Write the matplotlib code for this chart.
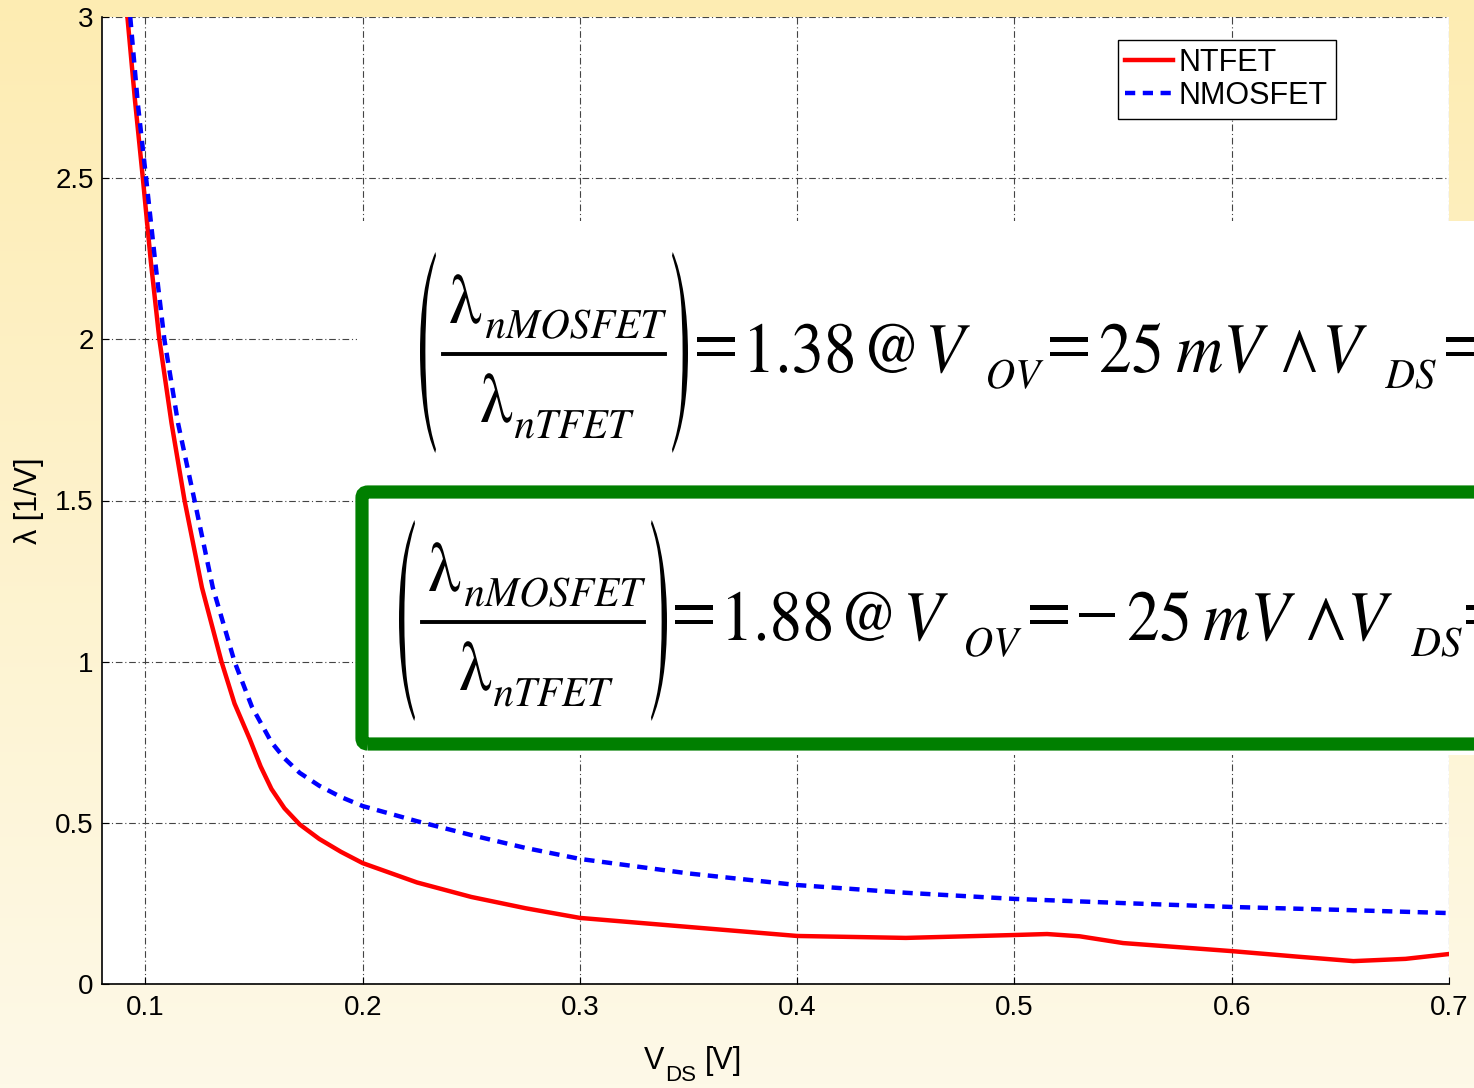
import numpy as np
import matplotlib
matplotlib.use("Agg")
import matplotlib.pyplot as plt
from matplotlib.textpath import TextPath
from matplotlib.patches import PathPatch, Rectangle, FancyBboxPatch
from matplotlib.font_manager import FontProperties
from matplotlib.transforms import Affine2D, IdentityTransform
from matplotlib.lines import Line2D

plt.rcParams['font.family'] = ['Liberation Sans', 'DejaVu Sans']

# ---- data ----
vds_ntfet = [0.0917, 0.0952, 0.0988, 0.1025, 0.1064, 0.112, 0.118, 0.126, 0.135,
             0.141, 0.148, 0.153, 0.158, 0.164, 0.171, 0.18, 0.19, 0.2, 0.225,
             0.25, 0.275, 0.3, 0.35, 0.4, 0.45, 0.5, 0.515, 0.53, 0.55, 0.6,
             0.63, 0.656, 0.68, 0.7]
lam_ntfet = [3.0, 2.74, 2.5, 2.24, 2.0, 1.74, 1.5, 1.23, 1.0,
             0.87, 0.76, 0.675, 0.605, 0.545, 0.495, 0.45, 0.41, 0.375, 0.315,
             0.27, 0.235, 0.205, 0.177, 0.149, 0.143, 0.152, 0.155, 0.148, 0.127, 0.102,
             0.085, 0.071, 0.078, 0.093]

vds_nmos = [0.093, 0.0965, 0.1003, 0.1045, 0.1087, 0.115, 0.1226, 0.131, 0.141,
            0.149, 0.158, 0.164, 0.171, 0.18, 0.19, 0.2, 0.225, 0.25, 0.275,
            0.3, 0.35, 0.4, 0.45, 0.5, 0.55, 0.6, 0.65, 0.7]
lam_nmos = [3.0, 2.73, 2.5, 2.24, 2.0, 1.74, 1.5, 1.23, 1.0,
            0.86, 0.75, 0.70, 0.655, 0.615, 0.58, 0.552, 0.505, 0.462, 0.422,
            0.388, 0.343, 0.307, 0.283, 0.264, 0.251, 0.239, 0.23, 0.22]

xticks = [0.1, 0.2, 0.3, 0.4, 0.5, 0.6, 0.7]
xticklabels = ['0.1', '0.2', '0.3', '0.4', '0.5', '0.6', '0.7']
yticks = [0, 0.5, 1, 1.5, 2, 2.5, 3]
yticklabels = ['0', '0.5', '1', '1.5', '2', '2.5', '3']

ratio_labels = ['1.38', '1.88']
vov_labels = ['25', '\u221225']

W, H = 1474, 1088
fig = plt.figure(figsize=(W / 100, H / 100), dpi=100)

# slide-style background gradient
bg = fig.add_axes([0, 0, 1, 1], zorder=-10)
top_c = np.array([253, 236, 178]) / 255
bot_c = np.array([254, 249, 232]) / 255
t = np.linspace(0, 1, 256)[:, None, None]
grad = top_c * (1 - t) + bot_c * t
bg.imshow(np.repeat(grad, 2, axis=1), aspect='auto', extent=[0, 1, 0, 1])
bg.set_axis_off()

ax = fig.add_axes([102 / W, (H - 984) / H, (1449 - 102) / W, (984 - 17) / H], zorder=1)
ax.set_facecolor('white')
ax.plot(vds_ntfet, lam_ntfet, color='red', lw=3.2, label='NTFET', zorder=3)
ax.plot(vds_nmos, lam_nmos, color='blue', lw=3.2, dashes=(2.3, 1.7), label='NMOSFET',
        zorder=3, dash_capstyle='butt')

ax.set_xlim(0.08, 0.7)
ax.set_ylim(0, 3)
ax.set_xticks(xticks)
ax.set_xticklabels(xticklabels)
ax.set_yticks(yticks)
ax.set_yticklabels(yticklabels)
ax.tick_params(direction='in', length=5, width=0.8, labelsize=20, pad=8)
ax.tick_params(axis='y', pad=6)
ax.grid(True, color='#444444', lw=0.8, linestyle=(0, (6, 2.5, 1, 2.5)))
ax.spines['top'].set_visible(False)
ax.spines['right'].set_visible(False)
for s in ('left', 'bottom'):
    ax.spines[s].set_linewidth(1.2)

ax.set_ylabel('λ [1/V]', fontsize=22)
ax.yaxis.set_label_coords(-0.043, 0.5)


# x-axis label with a lowered subscript
def fig_text(x, baseline, s, size):
    fig.text(x / W, (H - baseline) / H, s, fontsize=size, ha='left', va='baseline')


fig_text(644, 1069, 'V', 22)
fig_text(665, 1081, 'DS', 16)
fig_text(705, 1069, '[V]', 22)

leg = ax.legend(loc='upper left', bbox_to_anchor=(0.754, 0.976), borderaxespad=0,
                fontsize=22, handlelength=1.55, handletextpad=0.2, borderpad=0.25,
                labelspacing=0.1, fancybox=False, framealpha=1, edgecolor='black')
leg.get_frame().set_linewidth(1.0)

# white panel behind the equations
fig.add_artist(Rectangle((357, H - 755), 1300, 755 - 221, facecolor='white',
                         edgecolor='none', transform=IdentityTransform(), zorder=5))

# green frame around the second equation
fig.add_artist(FancyBboxPatch((362, H - 744), 1300, 744 - 492,
                              boxstyle='round,pad=0,rounding_size=6',
                              facecolor='none', edgecolor='#007F00', lw=9.5,
                              transform=IdentityTransform(), zorder=6))

SERIF = FontProperties(family='STIXGeneral')
SERIF_IT = FontProperties(family='STIXGeneral', style='italic')
BIG, SMALL = 65, 41


def glyphs(s, x, baseline, size=BIG, italic=False, stretch=None):
    """Draw string s in pixel space with its ink starting at x, sitting on baseline."""
    if stretch is None:
        stretch = 1.1 if size == BIG else 1.04
    tp = TextPath((0, 0), s, size=size, prop=SERIF_IT if italic else SERIF)
    ext = tp.get_extents()
    tr = Affine2D().translate(-ext.x0, 0).scale(1, stretch).translate(x, H - baseline)
    fig.add_artist(PathPatch(tp, facecolor='black', edgecolor='none', transform=tr, zorder=7))


def boxed(s, left, right, top, bottom):
    """Glyph stretched to fill the given pixel box."""
    tp = TextPath((0, 0), s, size=BIG, prop=SERIF)
    ext = tp.get_extents()
    tr = (Affine2D().translate(-ext.x0, -ext.y0)
          .scale((right - left) / ext.width, (bottom - top) / ext.height)
          .translate(left, H - bottom))
    fig.add_artist(PathPatch(tp, facecolor='black', edgecolor='none', transform=tr, zorder=7))


def ratio_block(dx, dy):
    boxed('(', 420 + dx, 436 + dx, 252 + dy, 453 + dy)
    glyphs('λ', 450 + dx, 323 + dy)
    glyphs('nMOSFET', 486 + dx, 338 + dy, SMALL, True)
    fig.add_artist(Line2D([443 + dx, 665 + dx], [H - 353.5 - dy] * 2, color='black',
                          lw=2.8, transform=IdentityTransform(), zorder=7))
    glyphs('λ', 481 + dx, 422 + dy)
    glyphs('nTFET', 515 + dx, 438 + dy, SMALL, True)
    boxed(')', 672 + dx, 688 + dx, 252 + dy, 453 + dy)


# first relation
ratio_block(0, 0)
glyphs('=', 697, 365)
glyphs(ratio_labels[0], 750, 372)
glyphs('@', 869, 372)
glyphs('V', 930, 372, italic=True)
glyphs('OV', 988, 388, SMALL, True)
glyphs('=', 1050, 365)
glyphs(vov_labels[0], 1101, 372)
glyphs('mV', 1177, 372, italic=True)
boxed('\u2227', 1283, 1316, 330, 372)
glyphs('V', 1327, 372, italic=True)
glyphs('DS', 1385, 388, SMALL, True)
glyphs('=', 1446, 365)

# second relation (framed)
ratio_block(-21, 268)
glyphs('=', 675, 633)
glyphs(ratio_labels[1], 728, 640)
glyphs('@', 846, 640)
glyphs('V', 908, 640, italic=True)
glyphs('OV', 966, 656, SMALL, True)
glyphs('=', 1030, 633)
glyphs(vov_labels[1][0], 1079, 633)
glyphs(vov_labels[1][1:], 1129, 640)
glyphs('mV', 1204, 640, italic=True)
boxed('\u2227', 1308, 1344, 598, 640)
glyphs('V', 1352, 640, italic=True)
glyphs('DS', 1411, 656, SMALL, True)
glyphs('=', 1466, 633)

fig.savefig('out.png', dpi=100)
